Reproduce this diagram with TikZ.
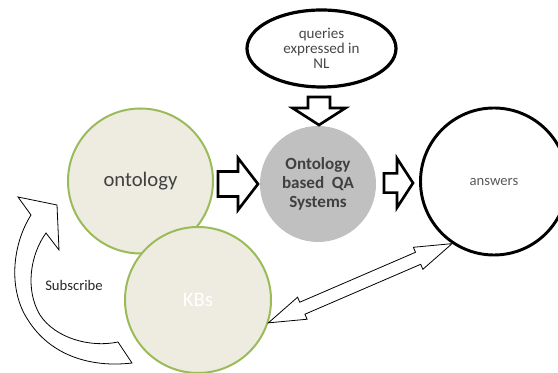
\documentclass[tikz,border=0pt]{standalone}
\usepackage{fontspec}
\setmainfont{Carlito}
\usetikzlibrary{calc,shapes.geometric}

\definecolor{kbfill}{HTML}{EEECE1}
\definecolor{kbline}{HTML}{9BBB59}
\definecolor{qafill}{HTML}{C0C0C0}
\definecolor{darktext}{HTML}{404040}
\definecolor{softtext}{HTML}{595959}

% Block arrow from #2 to #3: shaft half width #4, head half width #5, head length #6
\newcommand{\fatarrow}[6][]{%
  \draw[fatline,#1]
    ($(#2)!#4!90:(#3)$)
    -- ($(#3)!#6!(#2)!#4!-90:(#2)$)
    -- ($(#3)!#6!(#2)!#5!-90:(#2)$)
    -- (#3)
    -- ($(#3)!#6!(#2)!#5!90:(#2)$)
    -- ($(#3)!#6!(#2)!#4!90:(#2)$)
    -- ($(#2)!#4!-90:(#3)$)
    -- cycle;}

% Two-headed block arrow between #2 and #3
\newcommand{\fattwoway}[6][]{%
  \draw[fatline,#1]
    (#2)
    -- ($(#2)!#6!(#3)!#5!90:(#3)$)
    -- ($(#2)!#6!(#3)!#4!90:(#3)$)
    -- ($(#3)!#6!(#2)!#4!-90:(#2)$)
    -- ($(#3)!#6!(#2)!#5!-90:(#2)$)
    -- (#3)
    -- ($(#3)!#6!(#2)!#5!90:(#2)$)
    -- ($(#3)!#6!(#2)!#4!90:(#2)$)
    -- ($(#2)!#6!(#3)!#4!-90:(#3)$)
    -- ($(#2)!#6!(#3)!#5!-90:(#3)$)
    -- cycle;}

\begin{document}
\begin{tikzpicture}[x=0.75pt,y=-0.75pt,
  fatline/.style={draw=black,fill=white,line width=2pt,line join=miter},
  thinline/.style={draw=black,fill=white,line width=0.6pt,line join=miter},
  kbcircle/.style={circle,draw=kbline,fill=kbfill,line width=1.5pt,inner sep=0pt},
  bigword/.style={font=\fontsize{15.5pt}{18pt}\selectfont},
]
\useasboundingbox (0,0) rectangle (558,373);

% query ellipse
\node[ellipse,draw,line width=2.4pt,minimum width=111.75pt,minimum height=57.75pt,
      inner sep=0pt,align=center,font=\fontsize{11.3pt}{11.4pt}\selectfont,text=softtext!80!black]
  (q) at (321.5,48.5) {queries\\expressed in\\NL};

% QA system
\node[circle,fill=qafill,minimum size=87pt,inner sep=0pt,align=center,
      font=\fontsize{12.8pt}{14pt}\selectfont\bfseries,text=darktext]
  (qa) at (318,184) {Ontology\\based~~QA\\Systems};

% answers
\node[circle,draw,line width=2.2pt,minimum size=110.25pt,inner sep=0pt,
      font=\fontsize{11pt}{13pt}\selectfont,text=softtext]
  (ans) at (494,181.5) {answers};

% ontology and knowledge bases
\node[kbcircle,minimum size=108.75pt,bigword,text=darktext] (ont) at (140.5,181) {ontology};
\node[kbcircle,minimum size=109.5pt,bigword,text=white] (kb) at (198,300) {KBs};

% block arrows
\coordinate (a1s) at (218,184);
\coordinate (a1e) at (258,184);
\fatarrow{a1s}{a1e}{9.4pt}{19.5pt}{15pt}

\coordinate (a2s) at (384,183);
\coordinate (a2e) at (413,183);
\fatarrow{a2s}{a2e}{7.2pt}{18.5pt}{12pt}

\coordinate (a3s) at (319,97);
\coordinate (a3e) at (319,125);
\fatarrow{a3s}{a3e}{8.25pt}{19.9pt}{12.75pt}

% link between KBs and answers
\fattwoway[thinline]{kb.-18}{ans.236}{4.9pt}{9pt}{27.75pt}

% subscribe loop
\draw[thinline]
  (31,215) -- (18,197) -- (57,205) -- (59,250) -- (46,233)
  .. controls (30,255) and (25,290) .. (40,315)
  .. controls (55,338) and (90,348) .. (118,342)
  -- (132,363)
  .. controls (90,368) and (50,355) .. (28,320)
  .. controls (8,290) and (12,245) .. cycle;
\node[font=\fontsize{11pt}{13pt}\selectfont,text=black!85] (sub) at (74,285) {Subscribe};
\end{tikzpicture}
\end{document}
